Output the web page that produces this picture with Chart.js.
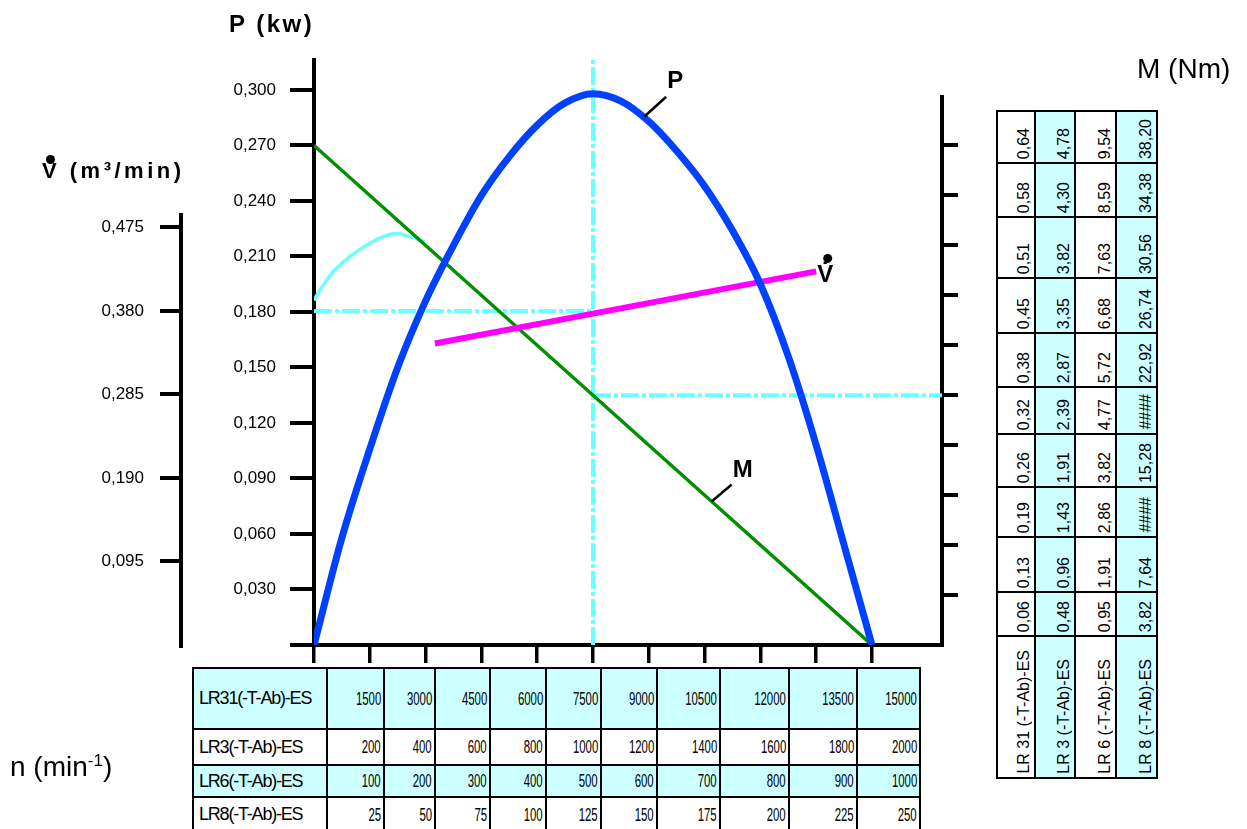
<!DOCTYPE html>
<html>
<head>
<meta charset="utf-8">
<script src="https://cdn.jsdelivr.net/npm/chart.js@4.4.1/dist/chart.umd.min.js"></script>
<style>
  body { margin: 0; background: #fff; }
  #wrap { position: relative; width: 1247px; height: 829px; overflow: hidden; font-family: "Liberation Sans", Arial, sans-serif; color: #000; }
  #chart { position: absolute; left: 0; top: 0; }
  .ttl { position: absolute; white-space: nowrap; }
  .dot { position: absolute; width: 9px; height: 9px; border-radius: 50%; background: #000; }
  .cell { position: absolute; box-sizing: border-box; border: 2px solid #000; display: flex; align-items: center; overflow: visible; }
  .cell.name { justify-content: flex-start; padding-left: 5px; font-size: 18px; letter-spacing: -1.2px; }
  .cell.num { justify-content: flex-end; padding-right: 2px; font-size: 19px; }
  .cell.num span { display: inline-block; transform: scaleX(0.6); transform-origin: right center; }
  .rcell { position: absolute; box-sizing: border-box; border: 2px solid #000; overflow: visible; }
  .rcell span { position: absolute; right: 2px; bottom: 3px; writing-mode: vertical-rl; transform: rotate(180deg); font-size: 16px; line-height: 16px; white-space: nowrap; }
</style>
</head>
<body>
<div id="wrap">
  <canvas id="chart" width="1247" height="829"></canvas>
  <div class="ttl" style="left:229px;top:10px;font-weight:bold;font-size:24px;letter-spacing:2.5px;">P (kw)</div>
  <div class="ttl" style="left:42px;top:158px;font-weight:bold;font-size:22px;letter-spacing:3.5px;">V̇ (m³/min)</div>
  <div class="dot" style="left:46px;top:155px;"></div>
  <div class="ttl" style="left:1137px;top:53px;font-size:28px;">M (Nm)</div>
  <div class="ttl" style="left:10px;top:751px;font-size:28px;">n (min<sup style="font-size:17px;">-1</sup>)</div>
</div>
<script>
// speed axis, LR31 (1/min)
const nTicks = [0, 1500, 3000, 4500, 6000, 7500, 9000, 10500, 12000, 13500, 15000];
const pTicks = [0, 0.03, 0.06, 0.09, 0.12, 0.15, 0.18, 0.21, 0.24, 0.27, 0.30];
const vTicks = [0.095, 0.19, 0.285, 0.38, 0.475];
const mTicks = [0.064, 0.128, 0.192, 0.256, 0.32, 0.384, 0.448, 0.512, 0.576, 0.64];

// power curve P (kW)
const pN   = [0, 750, 1500, 2250, 3000, 3750, 4500, 5250, 6000, 6750, 7500, 8250, 9000, 9750, 10500, 11250, 12000, 12750, 13500, 14250, 15000];
const pVal = [0, 0.058, 0.106, 0.150, 0.186, 0.216, 0.243, 0.264, 0.281, 0.293, 0.298, 0.294, 0.283, 0.267, 0.248, 0.224, 0.195, 0.156, 0.108, 0.054, 0];

// torque M (Nm, LR31)
const mN   = [0, 7500, 15000];
const mVal = [0.64, 0.32, 0];

// volume flow V (m3/min)
const vN   = [3250, 7500, 13500];
const vVal = [0.343, 0.377, 0.425];

// light cyan curve at low speed
const cN   = [0, 160, 520, 970, 1420, 1860, 2220, 2580, 2980];
const cVal = [0.392, 0.404, 0.425, 0.442, 0.455, 0.4645, 0.468, 0.4645, 0.4585];

// operating point marks
const nRef = 7500;
const vRef = 0.38;
const mRef = 0.32;

// bottom table: speeds per model
const rowModels = ['LR31(-T-Ab)-ES', 'LR3(-T-Ab)-ES', 'LR6(-T-Ab)-ES', 'LR8(-T-Ab)-ES'];
const speedLR31 = [1500, 3000, 4500, 6000, 7500, 9000, 10500, 12000, 13500, 15000];
const speedLR3  = [200, 400, 600, 800, 1000, 1200, 1400, 1600, 1800, 2000];
const speedLR6  = [100, 200, 300, 400, 500, 600, 700, 800, 900, 1000];
const speedLR8  = [25, 50, 75, 100, 125, 150, 175, 200, 225, 250];

// right table: torque per model (bottom to top)
const torqueModels = ['LR 31 (-T-Ab)-ES', 'LR 3 (-T-Ab)-ES', 'LR 6 (-T-Ab)-ES', 'LR 8 (-T-Ab)-ES'];
const torqueLR31 = ['0,06', '0,13', '0,19', '0,26', '0,32', '0,38', '0,45', '0,51', '0,58', '0,64'];
const torqueLR3  = ['0,48', '0,96', '1,43', '1,91', '2,39', '2,87', '3,35', '3,82', '4,30', '4,78'];
const torqueLR6  = ['0,95', '1,91', '2,86', '3,82', '4,77', '5,72', '6,68', '7,63', '8,59', '9,54'];
const torqueLR8  = ['3,82', '7,64', '####', '15,28', '####', '22,92', '26,74', '30,56', '34,38', '38,20'];

// scale ranges (chosen so the axes line up like the drawing)
const X_MAX = 16882;
const P_MAX = 0.3162;
const V_MAX = 0.6655;
const M_MAX = 0.7495;
const V_AXIS_TOP = 0.4915;
const M_AXIS_TOP = 0.7047;

const FONT = '"Liberation Sans", Arial, sans-serif';
const CYAN = '#6cffff';
const DASH = [18, 3, 4, 3];

const pts = (xs, ys) => xs.map((v, i) => ({ x: v, y: ys[i] }));
const comma = v => v.toFixed(3).replace('.', ',');

function line(ctx, x1, y1, x2, y2) {
  ctx.beginPath(); ctx.moveTo(x1, y1); ctx.lineTo(x2, y2); ctx.stroke();
}

const extras = {
  id: 'extras',
  beforeDatasetsDraw(chart) {
    const { ctx, scales: { yV, yM } } = chart;
    ctx.save();
    ctx.strokeStyle = '#000';
    ctx.lineWidth = 4;
    const vx = yV.right - 2;
    line(ctx, vx, yV.getPixelForValue(V_AXIS_TOP), vx, yV.getPixelForValue(0) + 3);
    const mx = yM.left;
    line(ctx, mx, yM.getPixelForValue(M_AXIS_TOP), mx, yM.getPixelForValue(0) + 2);
    ctx.restore();
  },
  afterDatasetsDraw(chart) {
    const { ctx, scales: { x, yP, yM, yV } } = chart;
    ctx.save();
    ctx.fillStyle = '#000';
    ctx.strokeStyle = '#000';
    ctx.lineWidth = 2.5;
    ctx.textBaseline = 'alphabetic';

    // P label
    let ax = x.getPixelForValue(8850), ay = yP.getPixelForValue(0.2855);
    line(ctx, ax + 1, ay, ax + 23, ay - 20);
    ctx.font = 'bold 24px ' + FONT;
    ctx.fillText('P', ax + 24, ay - 29);

    // M label
    ax = x.getPixelForValue(10690); ay = yM.getPixelForValue(0.1839);
    line(ctx, ax, ay, ax + 20, ay - 17);
    ctx.fillText('M', ax + 21, ay - 24);

    // V label at end of flow line
    ax = x.getPixelForValue(vN[vN.length - 1]); ay = yV.getPixelForValue(vVal[vVal.length - 1]);
    ctx.font = 'bold 24px ' + FONT;
    ctx.fillText('V̇', ax + 1, ay + 11);
    ctx.beginPath();
    ctx.arc(ax + 11.5, ay - 13, 4.5, 0, Math.PI * 2);
    ctx.fill();
    ctx.restore();
  }
};

new Chart(document.getElementById('chart'), {
  type: 'line',
  data: {
    datasets: [
      { data: pts(pN, pVal), yAxisID: 'yP', borderColor: '#0040ff', borderWidth: 7, cubicInterpolationMode: 'monotone' },
      { data: pts(vN, vVal), yAxisID: 'yV', borderColor: '#ff00ff', borderWidth: 6, tension: 0 },
      { data: pts(mN, mVal), yAxisID: 'yM', borderColor: '#009000', borderWidth: 3.5, tension: 0 },
      { data: pts(cN, cVal), yAxisID: 'yV', borderColor: CYAN, borderWidth: 3.5, cubicInterpolationMode: 'monotone' },
      { data: [{ x: nRef, y: 0 }, { x: nRef, y: P_MAX }], yAxisID: 'yP', borderColor: CYAN, borderWidth: 4, borderDash: DASH },
      { data: [{ x: 0, y: vRef }, { x: nRef, y: vRef }], yAxisID: 'yV', borderColor: CYAN, borderWidth: 4, borderDash: DASH },
      { data: [{ x: nRef, y: mRef }, { x: X_MAX, y: mRef }], yAxisID: 'yM', borderColor: CYAN, borderWidth: 4, borderDash: DASH }
    ]
  },
  options: {
    responsive: false,
    animation: false,
    events: [],
    layout: { padding: { left: 0, top: 60, right: 0, bottom: 0 } },
    plugins: { legend: { display: false }, tooltip: { enabled: false } },
    elements: { point: { radius: 0 }, line: { borderCapStyle: 'butt', fill: false } },
    scales: {
      x: {
        type: 'linear', position: 'bottom', min: 0, max: X_MAX,
        afterBuildTicks: s => { s.ticks = nTicks.map(v => ({ value: v })); },
        afterFit: s => { s.height = 184; },
        ticks: { callback: () => '', autoSkip: false },
        grid: { drawOnChartArea: false, tickLength: 18, lineWidth: 3.5, color: '#000' },
        border: { color: '#000', width: 4 }
      },
      yP: {
        type: 'linear', position: 'left', weight: 0, min: 0, max: P_MAX,
        afterBuildTicks: s => { s.ticks = pTicks.map(v => ({ value: v })); },
        afterFit: s => { s.width = 131; },
        ticks: { callback: v => v === 0 ? '' : comma(v), autoSkip: false, padding: 14, color: '#000', font: { family: FONT, size: 17 } },
        grid: { drawOnChartArea: false, tickLength: 24, lineWidth: 4, color: '#000' },
        border: { color: '#000', width: 4 }
      },
      yV: {
        type: 'linear', position: 'left', weight: 1, min: 0, max: V_MAX,
        afterBuildTicks: s => { s.ticks = vTicks.map(v => ({ value: v })); },
        afterFit: s => { s.width = 183; },
        ticks: { callback: v => comma(v), autoSkip: false, padding: 16, color: '#000', font: { family: FONT, size: 17 } },
        grid: { drawOnChartArea: false, tickLength: 23, lineWidth: 4, color: '#000' },
        border: { display: false }
      },
      yM: {
        type: 'linear', position: 'right', min: 0, max: M_MAX,
        afterBuildTicks: s => { s.ticks = mTicks.map(v => ({ value: v })); },
        afterFit: s => { s.width = 305; },
        ticks: { callback: () => '', autoSkip: false },
        grid: { drawOnChartArea: false, tickLength: 16, lineWidth: 4, color: '#000' },
        border: { display: false }
      }
    }
  },
  plugins: [extras]
});

// ---- tables ----
const wrap = document.getElementById('wrap');
const bottomCols = [193, 327, 384, 435, 490, 546, 601, 657, 720, 789, 857, 920];
const bottomRows = [668, 729, 765, 797, 832];
const bottomFill = ['#ccffff', '#fff', '#ccffff', '#fff'];
const speedRows = [speedLR31, speedLR3, speedLR6, speedLR8];

function addCell(cls, left, top, w, h, bg, html) {
  const d = document.createElement('div');
  d.className = cls;
  d.style.cssText = `left:${left}px;top:${top}px;width:${w + 2}px;height:${h + 2}px;background:${bg};`;
  d.innerHTML = html;
  wrap.appendChild(d);
}

rowModels.forEach((name, r) => {
  const top = bottomRows[r] - 1, h = bottomRows[r + 1] - bottomRows[r];
  addCell('cell name', bottomCols[0] - 1, top, bottomCols[1] - bottomCols[0], h, bottomFill[r], name);
  speedRows[r].forEach((v, c) => {
    addCell('cell num', bottomCols[c + 1] - 1, top, bottomCols[c + 2] - bottomCols[c + 1], h, bottomFill[r], `<span>${v}</span>`);
  });
});

const rightCols = [997, 1035, 1075, 1116, 1157];
const rightRows = [111, 163, 217, 278, 333, 387, 434, 487, 537, 592, 636, 778];
const rightFill = ['#fff', '#ccffff', '#fff', '#ccffff'];
const torqueCols = [torqueLR31, torqueLR3, torqueLR6, torqueLR8];

torqueCols.forEach((vals, c) => {
  const left = rightCols[c] - 1, w = rightCols[c + 1] - rightCols[c];
  for (let r = 0; r < 10; r++) {
    const top = rightRows[r] - 1, h = rightRows[r + 1] - rightRows[r];
    addCell('rcell', left, top, w, h, rightFill[c], `<span>${vals[9 - r]}</span>`);
  }
  addCell('rcell', left, rightRows[10] - 1, w, rightRows[11] - rightRows[10], rightFill[c], `<span>${torqueModels[c]}</span>`);
});
</script>
</body>
</html>
